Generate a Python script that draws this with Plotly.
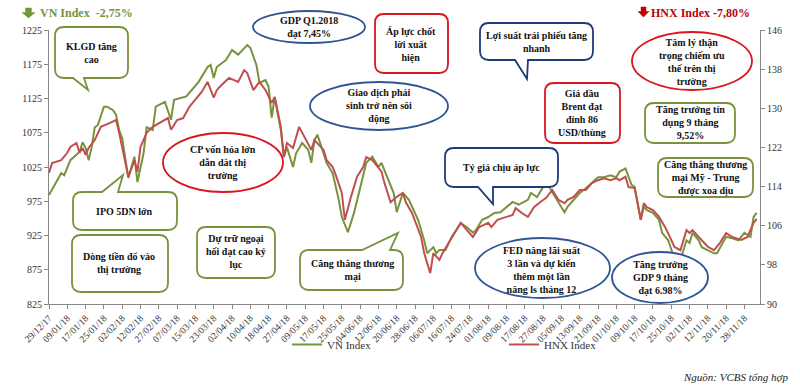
import plotly.graph_objects as go

# ---------------- data ----------------
tick_labels = ["29/12/17", "09/01/18", "17/01/18", "25/01/18", "02/02/18", "12/02/18", "27/02/18",
               "07/03/18", "15/03/18", "23/03/18", "02/04/18", "10/04/18", "18/04/18", "27/04/18",
               "09/05/18", "17/05/18", "25/05/18", "04/06/18", "12/06/18", "20/06/18", "28/06/18",
               "06/07/18", "16/07/18", "24/07/18", "01/08/18", "09/08/18", "17/08/18", "27/08/18",
               "05/09/18", "13/09/18", "21/09/18", "01/10/18", "09/10/18", "17/10/18", "25/10/18",
               "02/11/18", "12/11/18", "20/11/18", "28/11/18"]
tick_step = 6  # trading days between labels

vn_day = [0, 4, 5, 7, 10, 11, 12, 13, 14, 15, 16, 18, 19, 21, 22, 23, 24, 26, 28, 29, 31, 32, 34, 35, 38,
          40, 41, 44, 45, 49, 52, 53, 54, 55, 58, 60, 62, 65, 66, 68, 69, 71, 72, 73, 74, 76, 77, 78, 80,
          81, 83, 85, 86, 87, 88, 90, 91, 93, 95, 96, 98, 100, 102, 104, 106, 108, 109, 111, 113, 114,
          116, 118, 121, 123, 124, 126, 127, 128, 130, 132, 135, 137, 139, 140, 142, 144, 146, 148, 150,
          152, 154, 157, 158, 160, 162, 164, 165, 167, 169, 170, 172, 174, 176, 178, 180, 182, 184, 186,
          187, 189, 190, 191, 192, 194, 195, 196, 198, 200, 201, 203, 205, 207, 209, 210, 211, 213, 214,
          216, 218, 219, 222, 224, 226, 228, 230, 231, 232]
vn_val = [984, 1016, 1013, 1035, 1047, 1061, 1053, 1035, 1054, 1083, 1086, 1113, 1113, 1108, 1101, 1079,
          1067, 1009, 1040, 1003, 1045, 1083, 1079, 1113, 1120, 1094, 1123, 1126, 1128, 1149, 1171, 1174,
          1155, 1171, 1181, 1196, 1189, 1203, 1199, 1174, 1148, 1152, 1142, 1097, 1127, 1079, 1040, 1054,
          1025, 1045, 1060, 1050, 1031, 1064, 1072, 1045, 1031, 1016, 977, 952, 930, 958, 996, 1031, 1040,
          1025, 1031, 1010, 987, 959, 987, 977, 948, 918, 899, 908, 899, 904, 904, 923, 943, 937, 929, 933,
          948, 952, 958, 959, 967, 974, 970, 977, 987, 981, 996, 996, 988, 974, 959, 967, 977, 987, 994,
          1002, 1010, 1010, 1013, 1010, 1018, 1023, 1010, 999, 996, 948, 967, 962, 958, 948, 929, 918, 892,
          889, 918, 914, 929, 918, 908, 904, 899, 899, 923, 921, 918, 929, 923, 952, 958]

hnx_day = [0, 1, 4, 6, 7, 9, 10, 11, 12, 13, 15, 17, 20, 22, 23, 24, 26, 28, 29, 30, 32, 34, 37, 39, 40,
           42, 44, 46, 50, 52, 54, 55, 56, 59, 62, 64, 65, 67, 69, 71, 73, 74, 76, 77, 78, 80, 82, 84, 86,
           87, 90, 91, 93, 94, 96, 97, 99, 101, 103, 104, 106, 109, 110, 112, 114, 116, 117, 119, 122, 123,
           125, 126, 128, 129, 131, 134, 135, 137, 139, 141, 144, 145, 147, 150, 152, 153, 155, 157, 159,
           161, 163, 165, 167, 169, 170, 172, 174, 176, 178, 180, 182, 184, 186, 187, 189, 190, 192, 194,
           195, 196, 198, 200, 202, 204, 205, 207, 209, 210, 211, 213, 214, 216, 218, 220, 222, 224, 227,
           229, 231, 232]
hnx_val = [116.8, 118.8, 119.4, 120.9, 122.1, 122.9, 120.9, 121.9, 120.5, 121.9, 123.5, 126.2, 127.0,
           127.6, 125.0, 122.1, 116.0, 119.4, 117.0, 122.1, 125.0, 126.2, 127.2, 128.0, 125.6, 127.6, 128.0,
           130.3, 133.3, 135.4, 132.2, 133.7, 134.4, 136.2, 135.4, 137.8, 137.2, 133.7, 135.4, 133.7, 131.1,
           132.3, 126.2, 120.0, 122.9, 121.9, 126.2, 124.0, 121.5, 123.5, 121.5, 119.4, 118.0, 116.4, 112.7,
           107.2, 111.9, 116.0, 118.0, 120.0, 119.4, 117.1, 114.7, 110.8, 111.9, 112.7, 110.8, 108.6, 103.7,
           100.4, 96.3, 100.4, 99.0, 100.4, 102.5, 105.7, 106.6, 105.1, 103.7, 105.7, 106.6, 105.7, 107.2,
           107.8, 108.2, 109.6, 108.6, 107.8, 109.8, 110.8, 111.7, 113.3, 111.3, 110.6, 111.3, 111.9, 113.3,
           113.3, 114.7, 115.3, 115.7, 115.3, 115.7, 115.3, 116.0, 113.9, 113.7, 107.2, 110.6, 109.8, 109.2,
           107.8, 105.7, 103.1, 101.7, 101.0, 105.1, 104.5, 105.1, 103.7, 103.1, 101.7, 101.0, 102.5, 104.5,
           103.7, 103.1, 103.7, 106.6, 107.4]

GREEN = "#77933C"
RED = "#C0504D"
BOX_GREEN = "#77933C"
BOX_RED = "#D9151E"
BOX_BLUE = "#2F5597"
BOX_NAVY = "#1F3A7A"
FONT = "Liberation Serif"

# ---------------- layout geometry (pixels) ----------------
W, H = 800, 388
PL, PR, PT, PB = 49, 760, 30, 304


def px(x):
    return (x - PL) / (PR - PL)


def py(y):
    return (PB - y) / (PB - PT)


def P(x, y):
    return f"{px(x):.5f},{py(y):.5f}"


def bubble(x0, y0, x1, y1, r=9, tail=None):
    s = f"M {P(x0 + r, y0)}"
    if tail and tail[0] == "top":
        _, a, b, tx, ty = tail
        s += f" L {P(a, y0)} L {P(tx, ty)} L {P(b, y0)}"
    s += f" L {P(x1 - r, y0)} Q {P(x1, y0)} {P(x1, y0 + r)}"
    s += f" L {P(x1, y1 - r)} Q {P(x1, y1)} {P(x1 - r, y1)}"
    if tail and tail[0] == "bottom":
        _, a, b, tx, ty = tail
        s += f" L {P(b, y1)} L {P(tx, ty)} L {P(a, y1)}"
    s += f" L {P(x0 + r, y1)} Q {P(x0, y1)} {P(x0, y1 - r)}"
    s += f" L {P(x0, y0 + r)} Q {P(x0, y0)} {P(x0 + r, y0)} Z"
    return s


shapes = []
annotations = []


def add_box(x0, y0, x1, y1, color, tail=None, r=9):
    shapes.append(dict(type="path", xref="paper", yref="paper", path=bubble(x0, y0, x1, y1, r, tail),
                       line=dict(color=color, width=1.8), fillcolor="white", layer="above"))


def add_ellipse(x0, y0, x1, y1, color):
    shapes.append(dict(type="circle", xref="paper", yref="paper", x0=px(x0), x1=px(x1), y0=py(y1), y1=py(y0),
                       line=dict(color=color, width=1.8), fillcolor="white", layer="above"))


def add_text(cx, y_first, lines, spacing=9.8, size=10):
    cy = y_first + (len(lines) - 1) * spacing / 2
    annotations.append(dict(xref="paper", yref="paper", x=px(cx), y=py(cy),
                            text="<br>".join(f"<b>{t}</b>" for t in lines), showarrow=False,
                            xanchor="center", yanchor="middle", align="center", borderpad=0,
                            font=dict(family=FONT, size=size, color="#111111")))


# callouts
add_box(55, 27, 128, 78, BOX_GREEN, tail=("bottom", 73, 84, 88, 90))
add_text(91, 48, ["KLGD tăng", "cao"])

add_box(73, 192, 177, 230, BOX_GREEN, tail=("top", 102, 118, 123, 175))
add_text(124, 211, ["IPO 5DN lớn"])

add_box(72, 235, 168, 292, BOX_GREEN)
add_text(119, 258, ["Dòng tiền đổ vào", "thị trường"])

add_ellipse(163, 133, 283, 192, BOX_RED)
add_text(223, 153, ["CP vốn hóa lớn", "dẫn dắt thị", "trường"])

add_box(197, 227, 275, 278, BOX_GREEN)
add_text(236, 242, ["Dự trữ ngoại", "hối đạt cao kỷ", "lục"])

add_ellipse(253, 11, 365, 43, BOX_BLUE)
add_text(309, 22, ["GDP Q1.2018", "đạt 7,45%"])

add_box(375, 14, 448, 73, BOX_RED)
add_text(411, 35, ["Áp lực chốt", "lời xuất", "hiện"])

add_ellipse(310, 82, 448, 130, BOX_BLUE)
add_text(379, 96, ["Giao dịch phái", "sinh trở nên sôi", "động"])

add_box(480, 23, 593, 60, BOX_NAVY, tail=("bottom", 515, 528, 527, 79))
add_text(536, 37, ["Lợi suất trái phiếu tăng", "nhanh"])

add_box(545, 83, 620, 143, BOX_RED)
add_text(582, 98, ["Giá dầu", "Brent đạt", "đỉnh 86", "USD/thùng"])

add_box(445, 148, 558, 187, BOX_NAVY, tail=("bottom", 478, 493, 493, 204))
add_text(501, 168, ["Tỷ giá chịu áp lực"])

add_ellipse(475, 238, 610, 298, BOX_BLUE)
add_text(542, 255, ["FED nâng lãi suất", "3 lần và dự kiến", "thêm một lần", "nâng ls tháng 12"])

add_ellipse(632, 32, 752, 90, BOX_RED)
add_text(692, 47, ["Tâm lý thận", "trọng chiếm ưu", "thế trên thị", "trường"])

add_box(645, 103, 735, 143, BOX_GREEN)
add_text(690, 113, ["Tăng trưởng tín", "dụng 9 tháng", "9,52%"])

add_box(658, 158, 753, 197, BOX_GREEN)
add_text(705, 168, ["Căng thẳng thương", "mại Mỹ - Trung", "được xoa dịu"])

add_ellipse(612, 252, 708, 303, BOX_BLUE)
add_text(660, 268, ["Tăng trưởng", "GDP 9 tháng", "đạt 6.98%"])

add_box(300, 250, 403, 290, BOX_GREEN, tail=("top", 362, 390, 398, 233))
add_text(352, 265, ["Căng thẳng thương", "mại"])


# headline arrows
def down_arrow(x, y, w, h, color):
    sw = w * 0.45
    hy = y + h * 0.45
    cx = x + w / 2
    path = (f"M {P(cx - sw / 2, y)} L {P(cx + sw / 2, y)} L {P(cx + sw / 2, hy)} L {P(x + w, hy)} "
            f"L {P(cx, y + h)} L {P(x, hy)} L {P(cx - sw / 2, hy)} Z")
    shapes.append(dict(type="path", xref="paper", yref="paper", path=path,
                       line=dict(color=color, width=0.5), fillcolor=color, layer="above"))


down_arrow(22, 8, 13, 10, GREEN)
down_arrow(638, 7, 11, 10, "#C00000")

annotations.append(dict(xref="paper", yref="paper", x=px(38), y=py(13), xanchor="left", yanchor="middle",
                        text="<b>VN Index  -2,75%</b>", showarrow=False,
                        font=dict(family=FONT, size=12, color=GREEN)))
annotations.append(dict(xref="paper", yref="paper", x=px(649), y=py(13), xanchor="left", yanchor="middle",
                        text="<b>HNX Index -7,80%</b>", showarrow=False,
                        font=dict(family=FONT, size=12, color="#C00000")))
annotations.append(dict(xref="paper", yref="paper", x=px(790), y=py(377), xanchor="right", yanchor="middle",
                        text="<i>Nguồn: VCBS tổng hợp</i>", showarrow=False,
                        font=dict(family=FONT, size=11, color="#222222")))

# ---------------- figure ----------------
fig = go.Figure()
fig.add_trace(go.Scatter(x=vn_day, y=vn_val, mode="lines", name="VN Index",
                         line=dict(color=GREEN, width=2), yaxis="y"))
fig.add_trace(go.Scatter(x=hnx_day, y=hnx_val, mode="lines", name="HNX Index",
                         line=dict(color=RED, width=2), yaxis="y2"))

axis_font = dict(family=FONT, size=10, color="#333333")
fig.update_layout(
    width=W, height=H,
    margin=dict(l=PL, r=W - PR, t=PT, b=H - PB, pad=0),
    plot_bgcolor="white", paper_bgcolor="white",
    xaxis=dict(range=[0, 233.1], tickvals=[i * tick_step for i in range(len(tick_labels))],
               ticktext=tick_labels, tickangle=-45, ticks="outside", ticklen=4, tickcolor="#888888",
               showline=True, linecolor="#888888", linewidth=1, showgrid=False, zeroline=False,
               tickfont=dict(family=FONT, size=9.5, color="#333333")),
    yaxis=dict(range=[825, 1225], tick0=825, dtick=50, ticks="outside", ticklen=4, tickcolor="#888888",
               showline=True, linecolor="#888888", linewidth=1, showgrid=False, zeroline=False,
               tickfont=axis_font),
    yaxis2=dict(range=[90, 146], tick0=90, dtick=8, overlaying="y", side="right", ticks="outside",
                ticklen=4, tickcolor="#888888", showline=True, linecolor="#888888", linewidth=1,
                showgrid=False, zeroline=False, tickfont=axis_font),
    showlegend=True,
    legend=dict(orientation="h", x=px(287), y=py(330), xanchor="left", yanchor="top",
                entrywidth=172, entrywidthmode="pixels", itemwidth=30,
                font=dict(family=FONT, size=11, color="#333333"), bgcolor="rgba(0,0,0,0)"),
    shapes=shapes,
    annotations=annotations,
)

fig.write_html("out.html", config={"displayModeBar": False},
               post_script="document.body.style.margin='0';")
